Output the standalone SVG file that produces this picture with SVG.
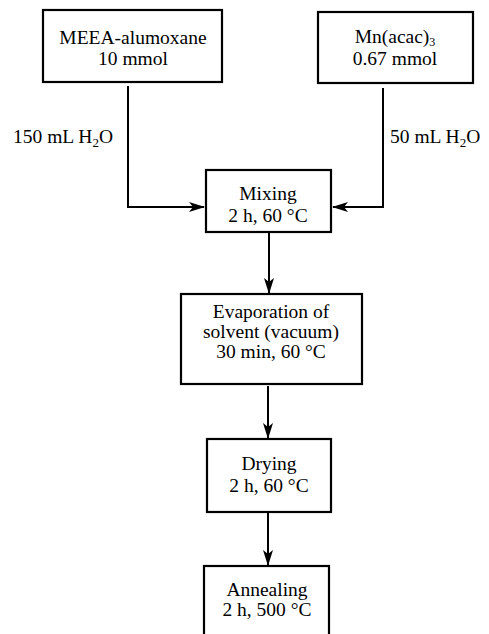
<svg xmlns="http://www.w3.org/2000/svg" width="489" height="634" viewBox="0 0 489 634">
<style>
.box{fill:#fff;stroke:#000;stroke-width:2.2}
.t{font-family:"Liberation Serif","Times New Roman",serif;font-size:19.5px;fill:#000;text-anchor:middle}
.l{font-family:"Liberation Serif","Times New Roman",serif;font-size:19.5px;fill:#000}
.c{fill:none;stroke:#000;stroke-width:2}
</style>
<defs>
<marker id="ah" markerWidth="16" markerHeight="10" refX="15" refY="5" orient="auto" markerUnits="userSpaceOnUse">
<path d="M0,0 L16,5 L0,10 L4,5 Z" fill="#000"/>
</marker>
</defs>
<rect width="489" height="634" fill="#fff"/>
<g id="connectors">
<path class="c" d="M128,86 V207 H204" marker-end="url(#ah)"/>
<path class="c" d="M383,88 V208" />
<path class="c" d="M383,207 H333" marker-end="url(#ah)"/>
<path class="c" d="M269,233 V293" marker-end="url(#ah)"/>
<path class="c" d="M268,386 V438" marker-end="url(#ah)"/>
<path class="c" d="M268,513 V565" marker-end="url(#ah)"/>
<text class="l" x="13" y="143">150 mL H<tspan font-size="13" dy="4">2</tspan><tspan dy="-4">O</tspan></text>
<text class="l" x="390" y="143">50 mL H<tspan font-size="13" dy="4">2</tspan><tspan dy="-4">O</tspan></text>
</g>
<g id="meea">
<rect class="box" x="43" y="10" width="179" height="72"/>
<text class="t" x="133" y="44">MEEA-alumoxane</text>
<text class="t" x="133" y="65">10 mmol</text>
</g>
<g id="mn">
<rect class="box" x="318" y="12" width="155" height="71"/>
<text class="t" x="395" y="43">Mn(acac)<tspan font-size="12" dy="3">3</tspan></text>
<text class="t" x="395" y="65">0.67 mmol</text>
</g>
<g id="mixing">
<rect class="box" x="206" y="170" width="125" height="62"/>
<text class="t" x="268" y="200">Mixing</text>
<text class="t" x="268" y="222">2 h, 60 °C</text>
</g>
<g id="evaporation">
<rect class="box" x="181" y="294" width="181" height="90"/>
<text class="t" x="271" y="318">Evaporation of</text>
<text class="t" x="271" y="338">solvent (vacuum)</text>
<text class="t" x="271" y="358">30 min, 60 °C</text>
</g>
<g id="drying">
<rect class="box" x="207" y="439" width="124" height="73"/>
<text class="t" x="269" y="470">Drying</text>
<text class="t" x="269" y="492">2 h, 60 °C</text>
</g>
<g id="annealing">
<rect class="box" x="204" y="566" width="125" height="80"/>
<text class="t" x="267" y="596">Annealing</text>
<text class="t" x="267" y="616">2 h, 500 °C</text>
</g>
</svg>
